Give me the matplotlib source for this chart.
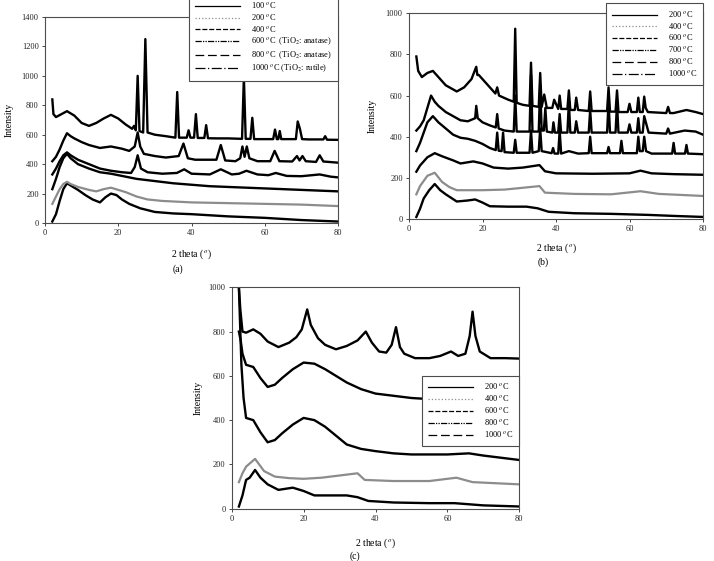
import matplotlib
matplotlib.use("Agg")
from matplotlib import pyplot as plt
from matplotlib.lines import Line2D
import numpy as np

plt.rcParams['font.family'] = ['Liberation Serif', 'DejaVu Serif']
plt.rcParams['mathtext.fontset'] = 'stix'

# ---- panel (a) : (2 theta, intensity) pairs
a_100 = [(2, 10), (3, 60), (4, 150), (5, 230), (6, 270), (7, 255), (9, 225), (11, 190), (13, 160),
         (15, 140), (16.5, 175), (18, 200), (19.5, 190), (21, 160), (23, 130), (26, 100), (30, 75),
         (35, 65), (40, 60), (50, 45), (60, 35), (70, 20), (80, 10)]
a_200 = [(2, 130), (3, 180), (4, 230), (5, 265), (6, 280), (7, 265), (9, 245), (12, 225), (14, 215),
         (16, 230), (18, 240), (20, 225), (22, 210), (25, 180), (28, 160), (32, 150), (40, 140),
         (50, 135), (60, 130), (70, 125), (80, 115)]
a_400 = [(2, 230), (3, 300), (4, 380), (5, 440), (6, 470), (7, 440), (9, 400), (12, 370), (15, 345),
         (18, 335), (21, 320), (25, 300), (30, 285), (35, 270), (40, 260), (45, 250), (50, 245),
         (55, 240), (60, 235), (65, 230), (70, 225), (75, 220), (80, 215)]
a_600 = [(2, 330), (3, 370), (4, 420), (5, 460), (6, 480), (7, 460), (9, 430), (12, 400), (15, 370),
         (18, 355), (21, 345), (23.5, 340), (24.5, 380), (25.3, 460), (26.2, 370), (28, 345), (32, 335),
         (36, 340), (38, 365), (40, 335), (45, 330), (48, 365), (51, 330), (53, 335), (55, 355),
         (58, 330), (61, 325), (63, 340), (66, 320), (70, 318), (75, 330), (78, 315), (80, 310)]
a_800 = [(2, 420), (3, 450), (4, 500), (5, 560), (6, 610), (7, 590), (8, 575), (10, 550), (12, 530),
         (15, 510), (18, 520), (21, 505), (23, 490), (24.5, 520), (25.3, 615), (26, 520), (27, 470),
         (30, 455), (33, 445), (36.5, 455), (37.8, 540), (39, 440), (41, 430), (46.8, 430), (48, 530),
         (49.2, 425), (52, 420), (53.3, 440), (53.9, 520), (54.5, 450), (55.1, 520), (55.8, 440),
         (58, 420), (61.5, 420), (62.7, 490), (64, 420), (67.5, 418), (68.8, 455), (69.5, 425),
         (70.3, 455), (71.2, 420), (74, 415), (75, 460), (76, 418), (80, 410)]
a_1000 = [(2, 840), (2.3, 740), (3, 720), (4.5, 740), (6, 760), (8, 730), (10, 680), (12, 660),
          (14, 680), (16, 710), (18, 735), (20, 710), (22, 670), (23.8, 640), (24.3, 660), (24.8, 630),
          (25.3, 1000), (25.8, 625), (26.8, 615), (27.4, 1250), (28, 615), (30, 600), (33, 590),
          (35.6, 580), (36.1, 890), (36.6, 580), (38.7, 580), (39.2, 630), (39.7, 580), (40.7, 580),
          (41.2, 740), (41.7, 578), (43.5, 578), (44, 665), (44.5, 576), (47, 575), (50, 575),
          (53.8, 572), (54.3, 990), (54.8, 572), (56.1, 572), (56.6, 715), (57.1, 570), (60, 570),
          (62.3, 570), (62.8, 635), (63.3, 570), (63.7, 570), (64.1, 625), (64.5, 570), (68.5, 570),
          (69, 690), (69.6, 640), (70.2, 570), (72, 568), (76, 568), (76.5, 590), (77, 566), (80, 565)]

a_labels = ["100 $^{o}$C", "200 $^{o}$C", "400 $^{o}$C",
            "600 $^{o}$C  (TiO$_2$: anatase)", "800 $^{o}$C  (TiO$_2$: anatase)",
            "1000 $^{o}$C (TiO$_2$: rutile)"]

# ---- panel (b)
b_200 = [(2, 10), (3, 50), (4, 100), (5.5, 140), (7, 170), (8.5, 140), (10, 120), (13, 85), (16, 90),
         (18, 95), (20, 80), (22, 62), (27, 60), (32, 60), (35, 52), (38, 35), (45, 28), (55, 25),
         (65, 20), (72, 15), (80, 10)]
b_400 = [(2, 120), (3, 160), (5, 210), (7, 225), (9, 180), (11, 155), (13, 140), (20, 140), (26, 143),
         (30, 150), (35.5, 160), (37, 128), (45, 122), (55, 120), (63, 135), (68, 122), (80, 112)]
b_600 = [(2, 230), (3, 260), (5, 300), (7, 320), (9, 305), (12, 285), (14, 270), (17.5, 280), (20, 270),
         (23, 250), (27, 245), (31, 250), (35.5, 262), (37, 232), (40, 222), (50, 220), (60, 222),
         (63, 235), (66, 222), (72, 218), (80, 215)]
b_700 = [(2, 330), (3, 370), (4, 420), (5, 470), (6.5, 500), (8, 470), (10, 440), (12, 410), (14, 395),
         (16, 390), (18, 380), (20, 365), (22, 345), (23.6, 335), (24, 420), (24.4, 332), (25.2, 330),
         (25.6, 420), (26, 325), (28.5, 322), (28.9, 385), (29.3, 322), (32.8, 322), (33.2, 430),
         (33.6, 322), (35.3, 330), (35.7, 440), (36.1, 330), (38.8, 320), (39.2, 345), (39.6, 318),
         (40.6, 318), (41, 430), (41.4, 318), (43.5, 330), (46, 318), (48.9, 320), (49.3, 400),
         (49.7, 320), (53.9, 320), (54.3, 350), (54.7, 320), (57.4, 320), (57.8, 380), (58.2, 320),
         (62, 320), (62.4, 400), (62.8, 330), (63.6, 330), (64, 400), (64.5, 330), (66, 318),
         (71.6, 318), (72, 370), (72.4, 318), (75.1, 318), (75.5, 360), (75.9, 318), (80, 315)]
b_800 = [(2, 430), (3, 450), (4, 480), (5, 540), (6, 600), (7, 570), (8, 550), (10, 520), (12, 500),
         (14, 480), (16, 475), (18, 490), (18.3, 550), (18.7, 490), (20, 470), (22, 455), (23.6, 445),
         (24, 510), (24.4, 440), (26, 430), (28.5, 425), (28.9, 600), (29.3, 425), (32.8, 425),
         (33.2, 700), (33.6, 425), (35.3, 425), (35.7, 650), (36.1, 430), (36.7, 430), (37.1, 540),
         (37.5, 425), (39, 420), (39.3, 470), (39.7, 420), (40.6, 420), (41, 510), (41.4, 420),
         (43.1, 420), (43.5, 570), (43.9, 420), (45.1, 420), (45.5, 475), (46, 420), (48.9, 420),
         (49.3, 530), (49.7, 420), (53.9, 420), (54.3, 570), (54.7, 420), (56.2, 420), (56.6, 560),
         (57, 420), (59.5, 420), (60, 460), (60.5, 420), (62, 420), (62.4, 490), (62.8, 420),
         (63.6, 420), (64, 500), (64.6, 460), (65.2, 420), (70, 415), (70.5, 440), (71, 415),
         (75, 430), (78, 425), (80, 410)]
b_1000 = [(2, 790), (2.5, 720), (3.5, 690), (5, 710), (6.5, 720), (8, 690), (10, 650), (13, 620),
          (15, 640), (17, 680), (18.3, 740), (18.6, 700), (19, 700), (21, 660), (23.5, 610), (24, 640),
          (24.5, 600), (27, 580), (28.5, 570), (28.9, 925), (29.3, 565), (31, 555), (32.8, 550),
          (33.2, 760), (33.6, 550), (35.3, 545), (35.7, 710), (36.1, 545), (36.8, 605), (37.5, 540),
          (39, 540), (39.5, 580), (40.6, 535), (41, 600), (41.4, 535), (43.1, 535), (43.5, 625),
          (43.9, 530), (45.1, 530), (45.5, 590), (46, 530), (48.9, 525), (49.3, 620), (49.7, 525),
          (53.9, 525), (54.3, 640), (54.7, 522), (56.2, 522), (56.6, 625), (57, 520), (59.5, 520),
          (60, 560), (60.5, 520), (62, 520), (62.4, 590), (62.8, 520), (63.6, 520), (64, 595),
          (64.4, 540), (65, 520), (70, 515), (70.5, 545), (71, 515), (72, 515), (75.5, 530),
          (78, 520), (80, 510)]

b_labels = ["200 $^{o}$C", "400 $^{o}$C", "600 $^{o}$C", "700 $^{o}$C", "800 $^{o}$C", "1000 $^{o}$C"]

# ---- panel (c)
c_200 = [(2, 10), (3, 60), (4, 130), (5, 140), (6.5, 175), (8, 140), (10, 110), (13, 85), (17, 95),
         (20, 80), (23, 60), (27, 60), (32, 60), (35, 52), (38, 35), (45, 28), (55, 25), (62, 25),
         (70, 15), (80, 10)]
c_400 = [(2, 120), (3, 160), (4, 190), (6.5, 225), (9, 170), (12, 145), (16, 138), (20, 135), (25, 140),
         (30, 150), (35, 160), (37, 130), (45, 125), (55, 125), (62.5, 140), (67, 120), (80, 110)]
c_600 = [(2, 1000), (2.3, 850), (2.7, 650), (3.3, 500), (4, 410), (6, 400), (8, 345), (10, 300),
         (12, 310), (14, 340), (17, 380), (20, 410), (23, 400), (26, 370), (29, 330), (32, 290),
         (36, 270), (40, 260), (45, 250), (50, 245), (55, 245), (60, 245), (66, 250), (70, 240),
         (75, 230), (80, 220)]
c_800 = [(2, 800), (2.5, 760), (3, 700), (4, 650), (6, 640), (8, 590), (10, 550), (12, 560), (14, 590),
         (17, 630), (20, 660), (23, 655), (26, 630), (29, 600), (32, 570), (36, 540), (40, 520),
         (45, 510), (50, 500), (55, 495), (60, 490), (70, 485), (80, 480)]
c_1000 = [(2, 1000), (2.4, 900), (3, 800), (4, 795), (6, 810), (8, 790), (10, 755), (13, 730), (16, 750),
          (18, 775), (19.5, 810), (21, 900), (22, 830), (24, 770), (26, 740), (29, 720), (32, 735),
          (35, 760), (37.3, 800), (39, 750), (41, 710), (43, 705), (44.5, 740), (45.7, 820), (46.8, 730),
          (48, 700), (51, 680), (55, 680), (58, 690), (61, 710), (63, 690), (65, 700), (66.2, 780),
          (67, 890), (67.8, 780), (69, 710), (72, 680), (76, 680), (80, 678)]

c_labels = ["200 $^{o}$C", "400 $^{o}$C", "600 $^{o}$C", "800 $^{o}$C", "1000 $^{o}$C"]

# legend line styles (solid, dotted grey, dashed, dash-dot-dot, long dash, long dash-dot)
styles6 = [('-', 'k'), (':', '0.55'), ((0, (4, 1.5)), 'k'), ((0, (5, 1, 1, 1, 1, 1)), 'k'),
           ((0, (7, 3)), 'k'), ((0, (8, 2, 1, 2)), 'k')]
styles5 = styles6[:5]


def draw_panel(fig, rect, curves, labels, styles, ymax, leg_corner, ylab_x, xlab_y):
    ax = fig.add_axes(rect)
    for pts, (ls, col) in zip(curves, styles):
        x, y = np.array(pts).T
        ax.plot(x, y, color=col, lw=1.7 if col == 'k' else 1.6)
    ax.set_xlim(0, 80)
    ax.set_ylim(0, ymax)
    ax.set_xticks([0, 20, 40, 60, 80])
    ax.set_yticks(np.arange(0, ymax + 1, 200))
    ax.tick_params(direction='out', length=2.5, width=0.6, labelsize=6, pad=2, colors='0.15')
    for s in ax.spines.values():
        s.set_color('0.3')
        s.set_linewidth(0.8)
    ax.set_xlabel("2 theta ($^{o}$)", fontsize=7)
    ax.set_ylabel("Intensity", fontsize=7)
    ax.xaxis.set_label_coords(0.5, xlab_y)
    ax.yaxis.set_label_coords(ylab_x, 0.5)

    handles = [Line2D([], [], color=col, ls=ls, lw=0.9) for ls, col in styles]
    leg = ax.legend(handles, labels, loc='lower right', bbox_to_anchor=leg_corner,
                    bbox_transform=fig.transFigure, borderaxespad=0, fontsize=6,
                    handlelength=5.4, handletextpad=1.3, labelspacing=0.18, borderpad=0.7,
                    fancybox=False, framealpha=1, edgecolor='0.3')
    leg.get_frame().set_linewidth(0.8)
    leg.set_zorder(10)
    return ax


W, H = 714, 561
fig = plt.figure(figsize=(W / 100, H / 100), dpi=100)

draw_panel(fig, [45 / W, 1 - 223 / H, 293 / W, 206 / H],
           [a_100, a_200, a_400, a_600, a_800, a_1000], a_labels, styles6, 1400,
           (338 / W, 1 - 81 / H), -0.106, -0.117)
draw_panel(fig, [409 / W, 1 - 219 / H, 294 / W, 205.7 / H],
           [b_200, b_400, b_600, b_700, b_800, b_1000], b_labels, styles6, 1000,
           (703 / W, 1 - 85 / H), -0.109, -0.107)
draw_panel(fig, [231.7 / W, 1 - 508.7 / H, 287.6 / W, 221.4 / H],
           [c_200, c_400, c_600, c_800, c_1000], c_labels, styles5, 1000,
           (519.3 / W, 1 - 445.7 / H), -0.100, -0.126)

fig.text(178 / W, 1 - 269 / H, "(a)", ha='center', va='center', fontsize=7)
fig.text(543 / W, 1 - 262 / H, "(b)", ha='center', va='center', fontsize=7)
fig.text(355 / W, 1 - 556 / H, "(c)", ha='center', va='center', fontsize=7)

fig.savefig("out.png", dpi=100)
